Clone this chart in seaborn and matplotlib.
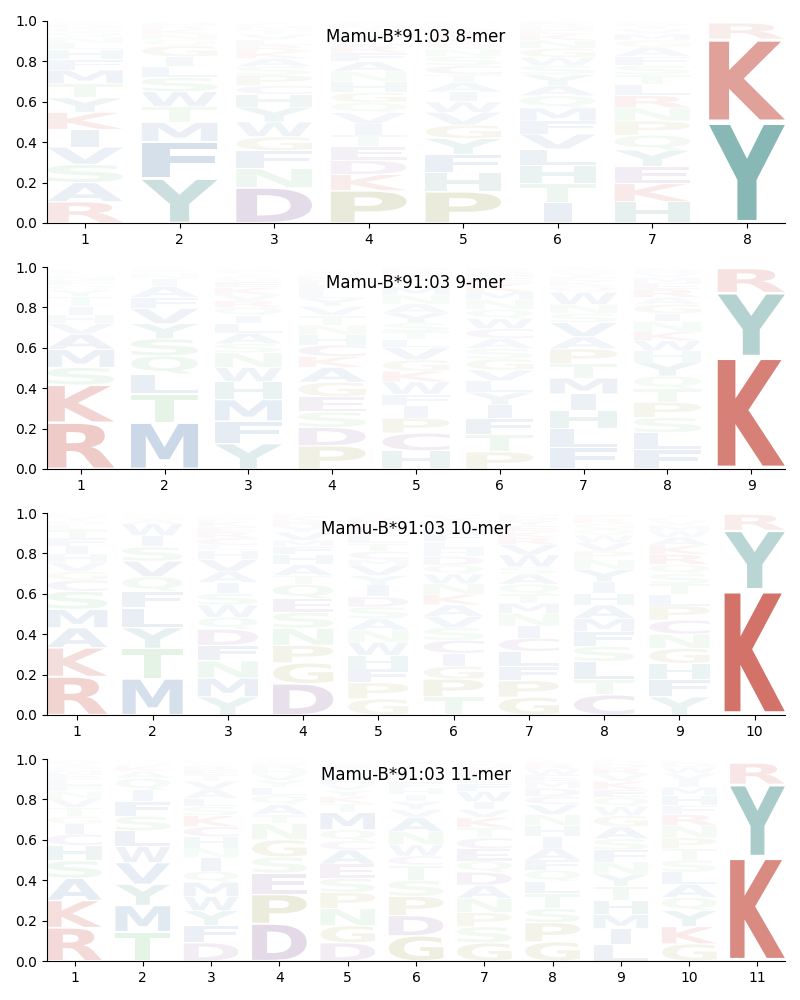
# Mamu-B*91:03 peptide logos, one panel per peptide length

import matplotlib
matplotlib.use("Agg")
import matplotlib.pyplot as plt
from matplotlib.font_manager import FontProperties
from matplotlib.patches import PathPatch
from matplotlib.textpath import TextPath
from matplotlib.transforms import Affine2D
import seaborn as sns

allele = "Mamu-B*91:03"

# letters go from bottom to top of the stack, one string per position
letters_8 = ["RASVIKYTMFHLNQGDCWP", "YFMTWSLIGQNKRHAC", "DNFGWYHCPSAKRLVTMEIQ", "PKDETIVQGHNAFRLYWMCS",
             "PHFYGVWIATCSNQKRDELM", "ITHLVFMQAYSWGNKEDRCP", "HKEYQPNRLTSFAGMVIDWC", "YKR"]
heights_8 = [
    [.105, .095, .09, .086, .087, .085, .072, .07, .067, .053, .05, .03, .03, .025, .02, .015, .01, .007, .003],
    [.22, .183, .095, .078, .074, .07, .054, .049, .055, .028, .028, .024, .018, .012, .008, .004],
    [.175, .095, .088, .069, .073, .073, .064, .043, .053, .042, .04, .035, .03, .028, .026, .022, .018, .012, .008, .004],
    [.16, .08, .07, .068, .058, .054, .056, .05, .05, .053, .05, .05, .044, .035, .03, .028, .024, .018, .012, .01],
    [.155, .093, .092, .078, .067, .063, .052, .048, .047, .04, .045, .045, .035, .03, .028, .025, .02, .015, .012, .008],
    [.1, .095, .09, .081, .074, .065, .065, .06, .05, .055, .045, .04, .045, .04, .03, .02, .018, .015, .012, .008],
    [.105, .09, .085, .082, .073, .07, .065, .06, .055, .05, .045, .045, .045, .035, .03, .025, .015, .012, .008, .005],
    [.5, .41, .08],
]

letters_9 = ["RKSMAVHITYQFNGEDP", "MTLQSYVFAINGKCE", "YFMHWNSALIQRVKEGTCPD", "PDSEGAKCHNTVYLFRMQWI",
             "HCPIFWKGVLTSYANMQERD", "PTFIYLVGSACWQNMKEHRD", "FLHIMTPAVSNWQKEYGRC",
             "FLSPTQYHWKNIGAREMVDC", "KYR"]
heights_9 = [
    [.23, .186, .087, .089, .076, .052, .042, .043, .05, .03, .025, .025, .02, .015, .01, .006, .004],
    [.23, .142, .098, .09, .085, .075, .075, .055, .055, .035, .025, .015, .01, .006, .004],
    [.125, .112, .106, .089, .071, .073, .044, .052, .048, .04, .04, .033, .03, .035, .03, .025, .015, .012, .01, .005],
    [.115, .091, .077, .075, .072, .073, .054, .057, .05, .049, .047, .045, .04, .035, .03, .024, .02, .015, .01, .008],
    [.09, .088, .074, .063, .055, .062, .053, .055, .062, .04, .04, .04, .05, .045, .045, .04, .035, .025, .02, .015],
    [.085, .085, .08, .067, .063, .057, .053, .055, .052, .049, .049, .05, .045, .048, .04, .04, .03, .022, .015, .01],
    [.105, .095, .09, .082, .078, .07, .075, .06, .07, .045, .045, .06, .03, .025, .02, .018, .015, .01, .007],
    [.095, .085, .075, .075, .067, .063, .07, .055, .05, .045, .05, .04, .045, .035, .04, .03, .028, .022, .015, .01],
    [.556, .317, .12],
]

letters_10 = ["RKAMSCGVHIFTLQYNPE", "MTYLFQVSIWAGNK", "YMNFDQWSIAVHLCREKPGT", "DGPNSEQTAHFMVYRKLIW",
              "GPFHWNASDIYVMCTLERKQ", "TPGICSVAKNWQDHLFMRYE", "GPFLCINMTQASWVRKEYDH",
              "CTLSFMAHIYNPVWQGRED", "YFHGNCPLTSQRKAWMVEID", "KYR"]
heights_10 = [
    [.19, .143, .099, .091, .09, .055, .042, .046, .04, .04, .039, .041, .025, .02, .018, .012, .006, .003],
    [.18, .15, .102, .098, .083, .072, .077, .071, .055, .059, .02, .014, .01, .006],
    [.09, .092, .086, .077, .08, .059, .061, .057, .054, .054, .06, .045, .025, .035, .03, .028, .025, .018, .012, .01],
    [.155, .103, .087, .085, .078, .069, .07, .043, .055, .05, .04, .03, .04, .03, .025, .02, .015, .01, .005],
    [.08, .08, .068, .067, .065, .06, .056, .059, .05, .058, .047, .05, .03, .04, .04, .035, .03, .03, .025, .015],
    [.09, .088, .064, .063, .065, .062, .056, .057, .052, .053, .048, .044, .043, .037, .036, .04, .035, .025, .02, .012],
    [.088, .082, .07, .075, .065, .06, .063, .05, .045, .05, .05, .035, .06, .05, .035, .03, .03, .025, .02, .012],
    [.1, .075, .09, .075, .072, .066, .066, .059, .057, .06, .05, .042, .043, .035, .03, .028, .025, .016, .008],
    [.09, .088, .077, .075, .07, .07, .07, .055, .053, .052, .045, .05, .045, .04, .03, .028, .025, .015, .01, .005],
    [.62, .294, .08],
]

letters_11 = ["RKASHCIGTVNFLEMQYDPW", "TMYVWLSFIQAKNGRE", "DFYWMQINHCKSLAVTERGP", "DPESGNTAQLYVHRMIFK",
              "DGNPSEACQMTKYVHLIFRW", "GDPSTCWNAVYIHFMLKRQE", "GSPNADQECTKVIWFLRMHY",
              "GPSTLQFAIHNVCDMEWRKY", "LIMHTYNFSAGWQEKVRDPC", "GKYQALSTPNRFHMIVWDEC", "KYR"]
heights_11 = [
    [.165, .135, .11, .087, .075, .056, .05, .038, .044, .045, .035, .03, .03, .025, .02, .018, .015, .012, .008, .004],
    [.145, .13, .105, .107, .08, .078, .072, .073, .057, .058, .035, .025, .015, .01, .006, .004],
    [.09, .085, .075, .07, .07, .055, .065, .05, .055, .05, .055, .045, .04, .045, .04, .03, .025, .02, .015, .01],
    [.185, .145, .105, .08, .085, .08, .045, .05, .045, .04, .035, .03, .025, .02, .012, .01, .006, .002],
    [.09, .085, .085, .08, .07, .07, .07, .045, .055, .085, .045, .035, .03, .03, .03, .025, .02, .015, .012, .008],
    [.125, .1, .095, .08, .075, .045, .055, .065, .07, .04, .04, .035, .03, .03, .025, .02, .02, .015, .012, .01],
    [.09, .08, .07, .07, .065, .065, .055, .06, .055, .05, .05, .04, .04, .05, .04, .035, .03, .02, .015, .01],
    [.095, .095, .07, .075, .06, .055, .05, .06, .055, .055, .055, .05, .04, .04, .035, .03, .03, .025, .015, .01],
    [.08, .08, .07, .07, .07, .06, .06, .06, .055, .06, .055, .045, .045, .04, .04, .035, .03, .02, .015, .01],
    [.085, .085, .08, .065, .065, .06, .06, .055, .055, .06, .055, .045, .05, .04, .035, .035, .03, .02, .01, .005],
    [.515, .36, .105],
]

lengths = [8, 9, 10, 11]
panel_letters = [letters_8, letters_9, letters_10, letters_11]
panel_heights = [heights_8, heights_9, heights_10, heights_11]

# residue classes
groups = {
    "KR": "#c0392b",
    "HY": "#318480",
    "AFILMVW": "#3c6ea5",
    "DEC": "#7d5091",
    "GP": "#929237",
    "NQST": "#64be6e",
}
colors = {aa: c for group, c in groups.items() for aa in group}

font = FontProperties(family="DejaVu Sans", weight="bold")


def draw_letter(ax, letter, x, y, h):
    # stretch the glyph so that it fills its slot in the stack
    path = TextPath((0, 0), letter, size=1, prop=font)
    box = path.get_extents()
    width = 0.29 if letter == "I" else 0.8
    pad = 0.03 * h
    tr = (Affine2D()
          .translate(-box.x0, -box.y0)
          .scale(width / box.width, (h - 2 * pad) / box.height)
          .translate(x - width / 2, y + pad))
    ax.add_patch(PathPatch(path, transform=tr + ax.transData, facecolor=colors[letter],
                           edgecolor="none", alpha=min(1, 1.15 * h)))


sns.set_style("ticks", {"axes.edgecolor": "black", "xtick.color": "black", "ytick.color": "black",
                        "text.color": "black", "axes.labelcolor": "black"})
plt.rcParams["font.family"] = ["DejaVu Sans"]

fig, axes = plt.subplots(4, 1, figsize=(8, 10), dpi=100)
fig.subplots_adjust(left=0.059, right=0.981, top=0.979, bottom=0.039, hspace=0.218)

for ax, n, letters, heights in zip(axes, lengths, panel_letters, panel_heights):
    for pos, (stack, values) in enumerate(zip(letters, heights), start=1):
        assert len(stack) == len(values), (n, pos)
        bottom = 0
        for letter, h in zip(stack, values):
            draw_letter(ax, letter, pos, bottom, h)
            bottom += h
    ax.set_xlim(0.6, n + 0.4)
    ax.set_ylim(0, 1)
    ax.set_xticks(range(1, n + 1))
    ax.set_title(f"{allele} {n}-mer", fontsize=12, y=0.853)

sns.despine(fig)
fig.savefig("out.png", dpi=100)
